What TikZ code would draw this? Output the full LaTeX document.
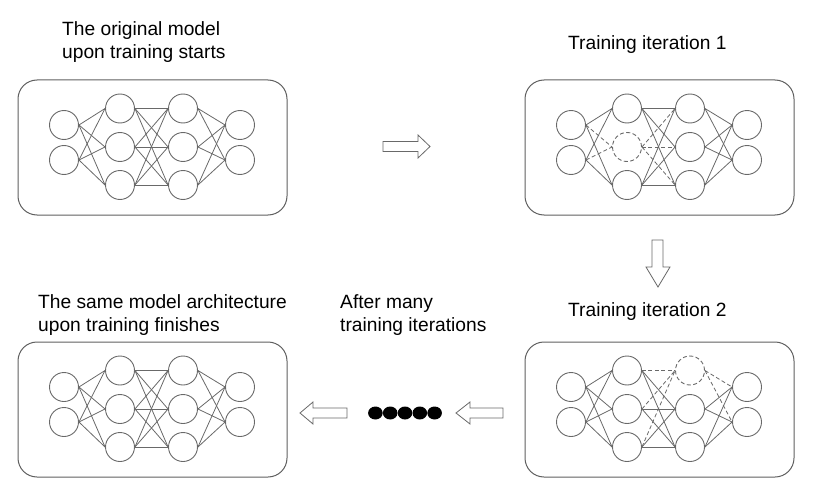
\documentclass[tikz,border=0pt]{standalone}
\usepackage{fontspec}
\setmainfont{Liberation Sans}
\definecolor{lg}{RGB}{105,105,105}
\definecolor{bg}{RGB}{95,95,95}
\tikzset{
  neuron/.style={circle, draw=lg, line width=0.9pt, minimum size=29pt, inner sep=0pt},
  dropneuron/.style={neuron, dash pattern=on 4pt off 2.5pt},
  link/.style={draw=lg, line width=0.8pt},
  droplink/.style={link, dash pattern=on 4pt off 2.5pt},
  netbox/.style={draw=bg, line width=1pt, rounded corners=19pt, minimum width=269pt, minimum height=135pt, inner sep=0pt},
  lbl/.style={anchor=base west, inner sep=0pt, font=\fontsize{19.2}{23}\selectfont},
  blockarrow/.style={draw=lg, line width=0.8pt, fill=white, line join=miter},
  dotmark/.style={ellipse, fill=black, minimum width=14.6pt, minimum height=13pt, inner sep=0pt}
}
\usetikzlibrary{shapes.geometric}
% neuron: prefix, id, x, y, dropped id
\newcommand{\netneuron}[5]{%
  \ifnum#2=#5 \tikzset{curneuron/.style={dropneuron}}\else\tikzset{curneuron/.style={neuron}}\fi
  \node[curneuron] (#1-#2) at (#3,#4) {};}
% link: prefix, from id, to id, dropped id
\newcommand{\netlink}[4]{%
  \tikzset{curlink/.style={link}}%
  \ifnum#2=#4 \tikzset{curlink/.style={droplink}}\fi
  \ifnum#3=#4 \tikzset{curlink/.style={droplink}}\fi
  \draw[curlink] (#1-#2.east) -- (#1-#3.west);}
% network: prefix, dx, dy, dropped id
\newcommand{\drawnet}[4]{%
  \begin{scope}[shift={(#2,#3)}]
    \node[netbox] (#1box) at (152.5,147.5) {};
    \foreach \i/\yy in {1/125,2/160}{\netneuron{#1}{1\i}{64}{\yy}{#4}}
    \foreach \i/\yy in {1/108.5,2/147,3/185}{\netneuron{#1}{2\i}{120}{\yy}{#4}}
    \foreach \i/\yy in {1/108.5,2/147,3/185}{\netneuron{#1}{3\i}{183}{\yy}{#4}}
    \foreach \i/\yy in {1/125,2/160}{\netneuron{#1}{4\i}{240}{\yy}{#4}}
    \foreach \a in {1,2}{\foreach \b in {1,2,3}{\netlink{#1}{1\a}{2\b}{#4}}}
    \foreach \a in {1,2,3}{\foreach \b in {1,2,3}{\netlink{#1}{2\a}{3\b}{#4}}}
    \foreach \a in {1,2,3}{\foreach \b in {1,2}{\netlink{#1}{3\a}{4\b}{#4}}}
  \end{scope}}
\begin{document}
\begin{tikzpicture}[x=1pt,y=-1pt]
\useasboundingbox (0,0) rectangle (825,503);
% labels
\node[lbl] (t1a) at (62,36) {The original model};
\node[lbl] (t1b) at (62,59) {upon training starts};
\node[lbl] (t2) at (568,50) {Training iteration 1};
\node[lbl] (t3) at (568,316) {Training iteration 2};
\node[lbl] (t4a) at (38,308) {The same model architecture};
\node[lbl] (t4b) at (38,331) {upon training finishes};
\node[lbl] (t5a) at (340,308) {After many};
\node[lbl] (t5b) at (340,331) {training iterations};
% networks
\drawnet{A}{0}{0}{0}
\drawnet{B}{507}{0}{22}
\drawnet{C}{507}{262}{31}
\drawnet{D}{0}{262}{0}
% block arrows
\draw[blockarrow] (383,141.5) -- (418,141.5) -- (418,135) -- (430,146.5) -- (418,158) -- (418,151.5) -- (383,151.5) -- cycle;
\draw[blockarrow] (652,240) -- (663,240) -- (663,267) -- (670,267) -- (658,287) -- (646,267) -- (652,267) -- cycle;
\draw[blockarrow] (503,408) -- (470,408) -- (470,402) -- (456,413) -- (470,424) -- (470,418) -- (503,418) -- cycle;
\draw[blockarrow] (347,408) -- (313,408) -- (313,402) -- (300,413) -- (313,424) -- (313,418) -- (347,418) -- cycle;
% dots
\foreach \k/\xx in {1/375.4,2/390.2,3/405,4/419.8,5/434.6}{\node[dotmark] (dot\k) at (\xx,413) {};}
\end{tikzpicture}
\end{document}
